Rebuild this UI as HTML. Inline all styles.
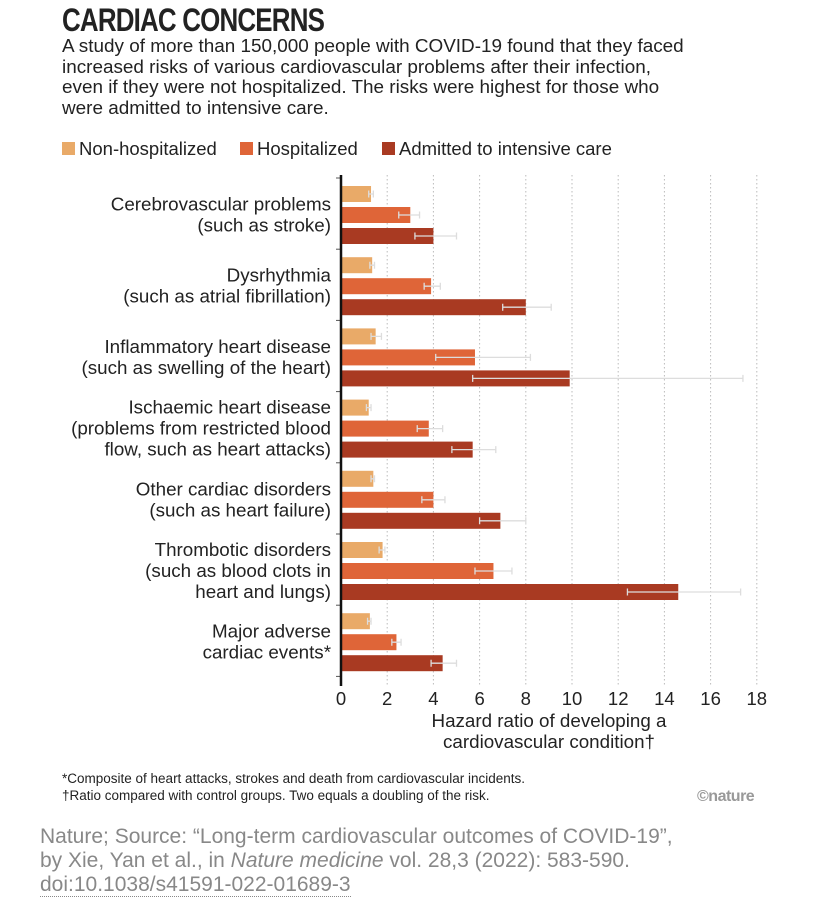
<!DOCTYPE html>
<html><head><meta charset="utf-8">
<style>
body{margin:0;background:#fff;font-family:"Liberation Sans",sans-serif;}
#wrap{position:relative;width:827px;height:916px;overflow:hidden;background:#fff}
.t{position:absolute;color:#222;}
</style></head><body>
<div id="wrap">
<div class="t" style="left:62px;top:2px;font-size:32px;font-weight:bold;letter-spacing:-1px;transform:scaleX(0.81);transform-origin:left;">CARDIAC CONCERNS</div>
<div class="t" style="left:62px;top:37px;font-size:18.9px;line-height:20.6px;width:632px;">A study of more than 150,000 people with COVID-19 found that they faced increased risks of various cardiovascular problems after their infection, even if they were not hospitalized. The risks were highest for those who were admitted to intensive care.</div>
<svg id="chart" width="827" height="916" style="position:absolute;left:0;top:0"></svg>
<div class="t" style="left:62px;top:771px;font-size:13.5px;">*Composite of heart attacks, strokes and death from cardiovascular incidents.</div>
<div class="t" style="left:62px;top:788px;font-size:13.5px;">†Ratio compared with control groups. Two equals a doubling of the risk.</div>
<div class="t" style="left:697px;top:788px;font-size:16px;color:#999;font-weight:bold;letter-spacing:-0.5px">©nature</div>
<div class="t" style="left:40px;top:825px;font-size:21px;line-height:24px;color:#888;width:660px;">Nature; Source: “Long-term cardiovascular outcomes of COVID-19”, by Xie, Yan et al., in <i>Nature medicine</i> vol. 28,3 (2022): 583-590. <span style="border-bottom:1px dotted #888">doi:10.1038/s41591-022-01689-3</span></div>
</div>
<script>
const categories=[["Cerebrovascular problems","(such as stroke)"],["Dysrhythmia","(such as atrial fibrillation)"],["Inflammatory heart disease","(such as swelling of the heart)"],["Ischaemic heart disease","(problems from restricted blood","flow, such as heart attacks)"],["Other cardiac disorders","(such as heart failure)"],["Thrombotic disorders","(such as blood clots in","heart and lungs)"],["Major adverse","cardiac events*"]];
const seriesNames=["Non-hospitalized","Hospitalized","Admitted to intensive care"];
const nonHosp=[1.3,1.35,1.5,1.2,1.4,1.8,1.25];
const nonHospLo=[1.2,1.25,1.3,1.1,1.3,1.65,1.15];
const nonHospHi=[1.4,1.45,1.75,1.3,1.45,1.9,1.3];
const hosp=[3.0,3.9,5.8,3.8,4.0,6.6,2.4];
const hospLo=[2.5,3.6,4.1,3.3,3.5,5.8,2.2];
const hospHi=[3.4,4.3,8.2,4.4,4.5,7.4,2.6];
const icu=[4.0,8.0,9.9,5.7,6.9,14.6,4.4];
const icuLo=[3.2,7.0,5.7,4.8,6.0,12.4,3.9];
const icuHi=[5.0,9.1,17.4,6.7,8.0,17.3,5.0];
const ticks=[0,2,4,6,8,10,12,14,16,18];
const colors=["#E9AA68","#DF6538","#A93A22"];
const svg=document.getElementById('chart');
const NS="http://www.w3.org/2000/svg";
const x0=341,pxPer=23.1;
const xs=v=>x0+v*pxPer;
const groupY=i=>194+i*71.2;
function mk(t,a){const e=document.createElementNS(NS,t);for(const k in a)e.setAttribute(k,a[k]);svg.appendChild(e);return e;}
const legendX=[62,240,382];
seriesNames.forEach((n,i)=>{
 const lx=legendX[i];
 const r=mk('rect',{x:lx,y:142,width:13,height:13,fill:colors[i]});
 
 
 const t=mk('text',{x:lx+17,y:155,'font-size':18.5,fill:'#222','font-family':'Liberation Sans'});
 t.textContent=n;
 
 
});
ticks.forEach(v=>{
 if(v>0){const g=mk('line',{x1:xs(v),x2:xs(v),y1:175,y2:685,stroke:'#bbb','stroke-dasharray':'1.5,2.5','stroke-width':1});
 
 }
 const t=mk('text',{x:xs(v),y:705,'font-size':18.5,'text-anchor':'middle',fill:'#222','font-family':'Liberation Sans'});
 t.textContent=v;
 
 
});
const vals=[nonHosp,hosp,icu],los=[nonHospLo,hospLo,icuLo],his=[nonHospHi,hospHi,icuHi];
categories.forEach((c,i)=>{
 const gy=groupY(i);
 for(let s=0;s<3;s++){
  const cy=gy+s*21;
  const b=mk('rect',{x:x0,y:cy-8,width:xs(vals[s][i])-x0,height:16,fill:colors[s]});
  
  
  const l=xs(los[s][i]),h=xs(his[s][i]);
  const e=mk('path',{d:`M${l},${cy}H${h}M${l},${cy-3.5}V${cy+3.5}M${h},${cy-3.5}V${cy+3.5}`,stroke:'#ddd','stroke-width':1.3,fill:'none'});
  
  
 }
 const n=c.length, my=gy+21;
 c.forEach((line,k)=>{
  const t=mk('text',{x:331,y:my+6+(k-(n-1)/2)*21,'font-size':18.8,'text-anchor':'end',fill:'#222','font-family':'Liberation Sans'});
  t.textContent=line;
  
  
 });
 const tk=mk('line',{x1:336,x2:341,y1:gy-16,y2:gy-16,stroke:'#555'});
 
 
});
mk('line',{x1:336,x2:341,y1:groupY(7)-16,y2:groupY(7)-16,stroke:'#555'});
const ax=mk('line',{x1:x0,x2:x0,y1:175,y2:686,stroke:'#111','stroke-width':2.5});


[["Hazard ratio of developing a",727],["cardiovascular condition†",748]].forEach(([s,y])=>{
 const t=mk('text',{x:549,y:y,'font-size':18.8,'text-anchor':'middle',fill:'#222','font-family':'Liberation Sans'});
 t.textContent=s;
 
 
});
</script>
</body></html>
